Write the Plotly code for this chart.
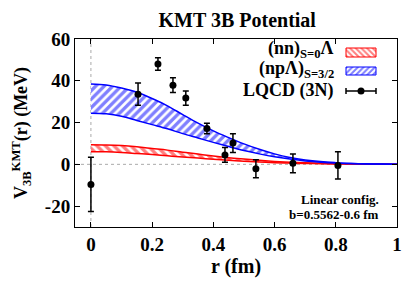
import plotly.graph_objects as go

# LQCD (3N) data
lq_r = [0.0, 0.154, 0.219, 0.268, 0.31, 0.379, 0.438, 0.464, 0.539, 0.66, 0.807]
lq_v = [-9.6, 33.6, 48.0, 37.9, 31.7, 17.2, 4.5, 10.2, -2.1, 0.5, -0.5]
lq_err = [13.0, 5.3, 3.0, 3.5, 3.4, 2.5, 3.5, 4.5, 4.3, 4.5, 6.5]

# bands
band_r = [0.0, 0.05, 0.1, 0.15, 0.2, 0.25, 0.3, 0.35, 0.4, 0.45, 0.5, 0.55, 0.6, 0.65, 0.7, 0.75, 0.8, 0.85, 0.9, 0.95, 1.0]
blue_hi = [38.5, 38.0, 36.5, 34.5, 31.5, 28.0, 23.8, 19.7, 16.0, 12.8, 9.8, 7.2, 5.0, 3.3, 2.1, 1.3, 0.8, 0.45, 0.25, 0.12, 0.06]
blue_lo = [24.5, 24.2, 23.0, 21.0, 19.0, 17.0, 14.7, 12.6, 10.5, 8.5, 6.6, 5.0, 3.6, 2.5, 1.6, 1.0, 0.6, 0.35, 0.2, 0.1, 0.05]
red_hi = [9.4, 9.3, 9.0, 8.4, 7.6, 6.8, 5.8, 4.9, 4.0, 3.2, 2.5, 1.9, 1.4, 1.0, 0.7, 0.5, 0.3, 0.2, 0.12, 0.08, 0.05]
red_lo = [6.0, 6.0, 5.7, 5.2, 4.7, 4.1, 3.5, 3.0, 2.4, 1.9, 1.5, 1.1, 0.8, 0.6, 0.4, 0.3, 0.2, 0.12, 0.08, 0.05, 0.03]

x_ticks = [0, 0.2, 0.4, 0.6, 0.8, 1]
x_ticklabels = ["0", "0.2", "0.4", "0.6", "0.8", "1"]
y_ticks = [-20, 0, 20, 40, 60]

FONT = "Liberation Serif"
fig = go.Figure()

def band(lo, hi, color, shape):
    fig.add_trace(go.Scatter(x=band_r, y=lo, mode="lines", line=dict(color=color, width=1.5, shape="spline"),
                             showlegend=False, hoverinfo="skip"))
    fig.add_trace(go.Scatter(x=band_r, y=hi, mode="lines", line=dict(color=color, width=1.5, shape="spline"),
                             fill="tonexty", fillcolor="rgba(0,0,0,0)",
                             fillpattern=dict(shape=shape, fgcolor=color, bgcolor="white", size=6, solidity=0.55),
                             showlegend=False, hoverinfo="skip"))

band(red_lo, red_hi, "red", "\\")
band(blue_lo, blue_hi, "blue", "/")

fig.add_trace(go.Scatter(x=lq_r, y=lq_v, mode="markers",
                         marker=dict(color="black", size=7),
                         error_y=dict(type="data", array=lq_err, color="black", thickness=1.5, width=3),
                         showlegend=False))

# manual legend samples on an overlay axis in pixel-like units
fig.add_trace(go.Scatter(x=[346, 376, 376, 346, 346], y=[48, 48, 57, 57, 48], xaxis="x2", yaxis="y2",
                         mode="lines", fill="toself", fillcolor="rgba(0,0,0,0)", line=dict(color="red", width=1),
                         fillpattern=dict(shape="\\", fgcolor="red", bgcolor="white", size=4, solidity=0.5),
                         showlegend=False, hoverinfo="skip"))
fig.add_trace(go.Scatter(x=[346, 376, 376, 346, 346], y=[67, 67, 75, 75, 67], xaxis="x2", yaxis="y2",
                         mode="lines", fill="toself", fillcolor="rgba(0,0,0,0)", line=dict(color="blue", width=1),
                         fillpattern=dict(shape="/", fgcolor="blue", bgcolor="white", size=4, solidity=0.5),
                         showlegend=False, hoverinfo="skip"))
fig.add_trace(go.Scatter(x=[361], y=[91], xaxis="x2", yaxis="y2", mode="markers",
                         marker=dict(color="black", size=7),
                         error_x=dict(type="data", array=[15], color="black", thickness=1.5, width=3),
                         showlegend=False, hoverinfo="skip"))

fig.add_shape(type="line", x0=0, x1=0, y0=0, y1=1, xref="x", yref="paper",
              line=dict(color="#aaaaaa", width=1, dash="dot"), layer="below")
fig.add_shape(type="line", x0=0, x1=1, y0=0, y1=0, xref="paper", yref="y",
              line=dict(color="#aaaaaa", width=1, dash="dot"), layer="below")

legend_txt = ["<b>(nn)<sub>S=0</sub>Λ</b>", "<b>(npΛ)<sub>S=3/2</sub></b>", "<b>LQCD (3N)</b>"]
legend_y = [49, 69, 90]
for t, yy in zip(legend_txt, legend_y):
    fig.add_annotation(x=336, y=yy, xref="x2", yref="y2", text=t, showarrow=False,
                       xanchor="right", yanchor="middle", font=dict(family=FONT, size=18, color="black"))

fig.add_annotation(x=0.95, y=0.145, xref="paper", yref="paper", text="<b>Linear config.</b>", showarrow=False,
                   xanchor="right", yanchor="middle", font=dict(family=FONT, size=13, color="black"))
fig.add_annotation(x=0.95, y=0.066, xref="paper", yref="paper", text="<b>b=0.5562-0.6 fm</b>", showarrow=False,
                   xanchor="right", yanchor="middle", font=dict(family=FONT, size=13, color="black"))

axis_common = dict(showline=True, linecolor="black", linewidth=1, mirror="ticks", ticks="inside",
                   ticklen=5, tickcolor="black", showgrid=False, zeroline=False, automargin=False,
                   tickfont=dict(family=FONT, size=19, color="black"))

fig.update_layout(
    width=409, height=286,
    margin=dict(l=75, r=12, t=39, b=59),
    plot_bgcolor="white", paper_bgcolor="white",
    font=dict(family=FONT, color="black", size=16),
    title=dict(text="<b>KMT 3B Potential</b>", x=0.58, xanchor="center", y=0.93, yanchor="middle",
               font=dict(family=FONT, size=20, color="black")),
    xaxis=dict(range=[-0.052, 1.0], tickvals=x_ticks, ticktext=["<b>%s</b>" % s for s in x_ticklabels],
               title=dict(text="<b>r (fm)</b>", standoff=2, font=dict(family=FONT, size=20)), **axis_common),
    yaxis=dict(range=[-30, 60], tickvals=y_ticks, ticktext=["<b>%d</b>" % v for v in y_ticks],
               title=dict(text="<b>V<sub>3B</sub><sup>KMT</sup>(r) (MeV)</b>", standoff=12, font=dict(family=FONT, size=18)),
               **axis_common),
    xaxis2=dict(overlaying="x", range=[75, 397], visible=False, fixedrange=True),
    yaxis2=dict(overlaying="y", range=[227, 39], visible=False, fixedrange=True),
)

fig.write_html("out.html", config={"displayModeBar": False},
               post_script="document.body.style.margin='0';document.body.style.overflow='hidden';")
